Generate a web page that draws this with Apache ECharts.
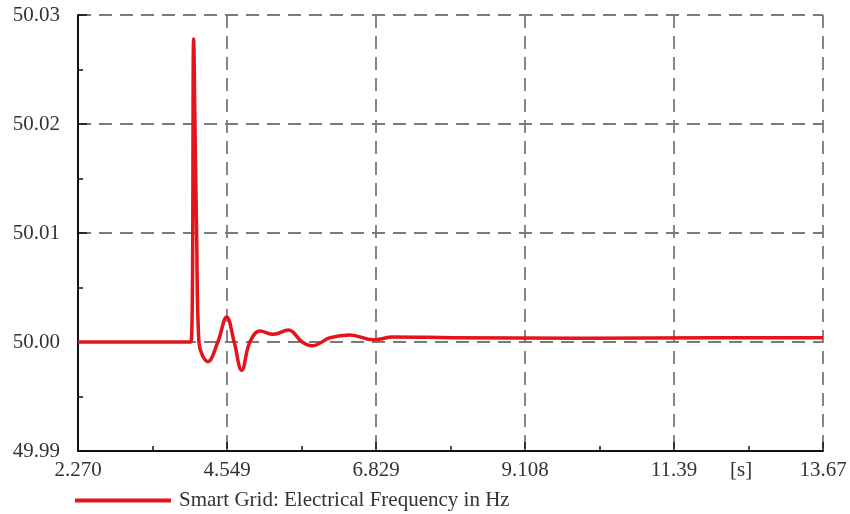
<!DOCTYPE html>
<html>
<head>
<meta charset="utf-8">
<script src="https://cdn.jsdelivr.net/npm/echarts@6/dist/echarts.min.js"></script>
<style>
  html, body { margin: 0; padding: 0; background: #fff; }
  #chart { width: 850px; height: 514px; }
</style>
</head>
<body>
<div id="chart"></div>
<script>
// Time stamps (s) and grid frequency (Hz) of the disturbance response
const timeS = [2.27, 4.00, 4.04, 4.06, 4.085, 4.12, 4.26, 4.41, 4.545, 4.66, 4.775, 4.90,
  5.055, 5.26, 5.49, 5.70, 5.85, 6.13, 6.43, 6.79, 7.09, 8.0, 10.0, 12.0, 13.67];
const freqHz = [50.0000, 50.0000, 50.0278, 50.0200, 50.0100, 50.0000, 49.9982, 50.0000,
  50.0023, 50.0000, 49.9974, 50.0000, 50.0010, 50.0007, 50.0011, 50.0000, 49.99965,
  50.0004, 50.00065, 50.0002, 50.00045, 50.0004, 50.00035, 50.0004, 50.0004];

// Axis tick labels
const xTickLabels = ['2.270', '4.549', '6.829', '9.108', '11.39', '13.67'];
const yTickLabels = ['49.99', '50.00', '50.01', '50.02', '50.03'];

const seriesName = 'Smart Grid: Electrical Frequency in Hz';
const unitLabel = '[s]';

// x axis runs on elapsed time from the first sample, labelled in absolute seconds
const T0 = 2.27;
const X_STEP = 2.28;
const Y_MIN = 49.99, Y_STEP = 0.01;

const FONT = '"Liberation Serif", "DejaVu Serif", serif';
const RED = '#e3141b';
const TEXT = '#333';
const GRID_LINE = { color: '#7a7a7a', width: 1.8, type: [13, 8] };

const chart = echarts.init(document.getElementById('chart'), null, { renderer: 'canvas' });

const data = timeS.map((t, i) => [t - T0, freqHz[i]]);

chart.setOption({
  animation: false,
  backgroundColor: '#fff',
  grid: { left: 78, right: 27, top: 15, bottom: 63, containLabel: false },
  xAxis: {
    type: 'value',
    min: 0,
    max: X_STEP * 5,
    interval: X_STEP,
    axisLine: { show: true, onZero: false, lineStyle: { color: '#111', width: 2 } },
    axisTick: { show: true, inside: true, length: 9, lineStyle: { color: '#111', width: 1.5 } },
    minorTick: { show: true, splitNumber: 2, length: 5, lineStyle: { color: '#111', width: 1.5 } },
    axisLabel: {
      margin: 9,
      color: TEXT,
      fontFamily: FONT,
      fontSize: 21,
      formatter: v => xTickLabels[Math.round(v / X_STEP)] ?? ''
    },
    splitLine: { show: true, lineStyle: GRID_LINE }
  },
  yAxis: {
    type: 'value',
    min: Y_MIN,
    max: 50.03,
    interval: Y_STEP,
    axisLine: { show: true, onZero: false, lineStyle: { color: '#111', width: 2 } },
    axisTick: { show: true, inside: true, length: 9, lineStyle: { color: '#111', width: 1.5 } },
    minorTick: { show: true, splitNumber: 2, length: 5, lineStyle: { color: '#111', width: 1.5 } },
    axisLabel: {
      margin: 18,
      color: TEXT,
      fontFamily: FONT,
      fontSize: 21,
      formatter: v => yTickLabels[Math.round((v - Y_MIN) / Y_STEP)] ?? ''
    },
    splitLine: { show: true, lineStyle: GRID_LINE }
  },
  legend: {
    left: 75,
    top: 490,
    itemWidth: 96,
    itemHeight: 14,
    itemGap: 10,
    padding: 0,
    textStyle: { color: TEXT, fontFamily: FONT, fontSize: 21, padding: [0, 0, 0, 3] },
    data: [{ name: seriesName, icon: 'path://M0,5 L96,5 L96,9 L0,9 Z' }]
  },
  graphic: [{
    type: 'text',
    left: 730,
    top: 460,
    style: { text: unitLabel, fill: TEXT, font: '21px ' + FONT }
  }],
  series: [{
    name: seriesName,
    type: 'line',
    data: data,
    showSymbol: false,
    symbol: 'none',
    smooth: 0.4,
    lineStyle: { color: RED, width: 3.5 },
    itemStyle: { color: RED }
  }]
});
</script>
</body>
</html>
